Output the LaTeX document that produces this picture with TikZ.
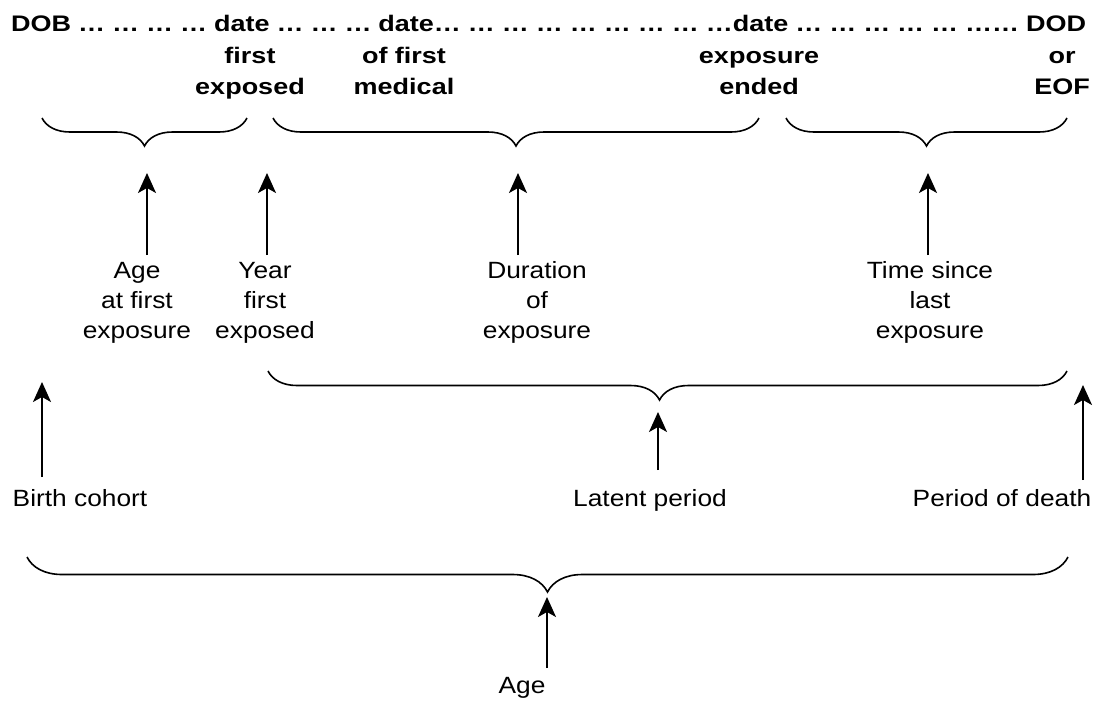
\documentclass[tikz,border=0pt]{standalone}
\usepackage{fontspec}
\setmainfont{Liberation Sans}[FakeStretch=1.12,BoldFeatures={FakeStretch=1.2}]
\usetikzlibrary{arrows.meta,decorations.pathreplacing}

\begin{document}
\begin{tikzpicture}[x=1pt,y=-1pt,
 lbl/.style={anchor=base,align=center,inner sep=0pt,font=\fontsize{23.5}{30}\selectfont},
 toplbl/.style={anchor=base,align=center,inner sep=0pt,font=\fontsize{22.5}{31}\selectfont\bfseries},
 brc/.style={decorate,decoration={brace,mirror,amplitude=#1},line width=1.6pt},
 arr/.style={-{Stealth[length=20pt,width=18pt,inset=5pt]},line width=1.8pt}]
\useasboundingbox (0,0) rectangle (1096,702);

\node [toplbl,anchor=base west] (timeline) at (11,31)
 {\makebox[1075pt][s]{DOB … … … … date … … … date… … … … … … … … …date … … … … … …… DOD}};
\node [toplbl] (firstexp) at (250,94) {first\\exposed};
\node [toplbl] (firstmed) at (404,94) {of first\\medical};
\node [toplbl] (expend) at (759,94) {exposure\\ended};
\node [toplbl] (dod) at (1062,94) {or\\EOF};

\draw [brc=28pt] (42,118) -- (247,118);
\draw [brc=28pt] (273,118) -- (759,118);
\draw [brc=28pt] (786,118) -- (1067,118);

\node [lbl] (agefirst) at (137,338) {Age\\at first\\exposure};
\node [lbl] (yearfirst) at (265,338) {Year\\first\\exposed};
\node [lbl] (duration) at (537,338) {Duration\\of\\exposure};
\node [lbl] (timesince) at (930,338) {Time since\\last\\exposure};

\coordinate (agefirstS) at (147,255); \coordinate (agefirstE) at (147,173);
\coordinate (yearfirstS) at (267,255); \coordinate (yearfirstE) at (267,173);
\coordinate (durationS) at (518,255); \coordinate (durationE) at (518,173);
\coordinate (timesinceS) at (928,255); \coordinate (timesinceE) at (928,173);
\draw [arr] (agefirstS) -- (agefirstE);
\draw [arr] (yearfirstS) -- (yearfirstE);
\draw [arr] (durationS) -- (durationE);
\draw [arr] (timesinceS) -- (timesinceE);

\draw [brc=29pt,decoration={aspect=0.49}] (268,371) -- (1067,371);

\node [lbl] (cohort) at (80,506) {Birth cohort};
\node [lbl] (latent) at (650,506) {Latent period};
\node [lbl] (death) at (1002,506) {Period of death};

\coordinate (cohortS) at (42,477); \coordinate (cohortE) at (42,382);
\coordinate (latentS) at (658,470); \coordinate (latentE) at (658,412);
\coordinate (deathS) at (1083,480); \coordinate (deathE) at (1083,385);
\draw [arr] (cohortS) -- (cohortE);
\draw [arr] (latentS) -- (latentE);
\draw [arr] (deathS) -- (deathE);

\draw [brc=35pt] (27,557) -- (1068,557);

\node [lbl] (age) at (522,693) {Age};
\coordinate (ageS) at (547,668); \coordinate (ageE) at (547,597);
\draw [arr] (ageS) -- (ageE);
\end{tikzpicture}
\end{document}
